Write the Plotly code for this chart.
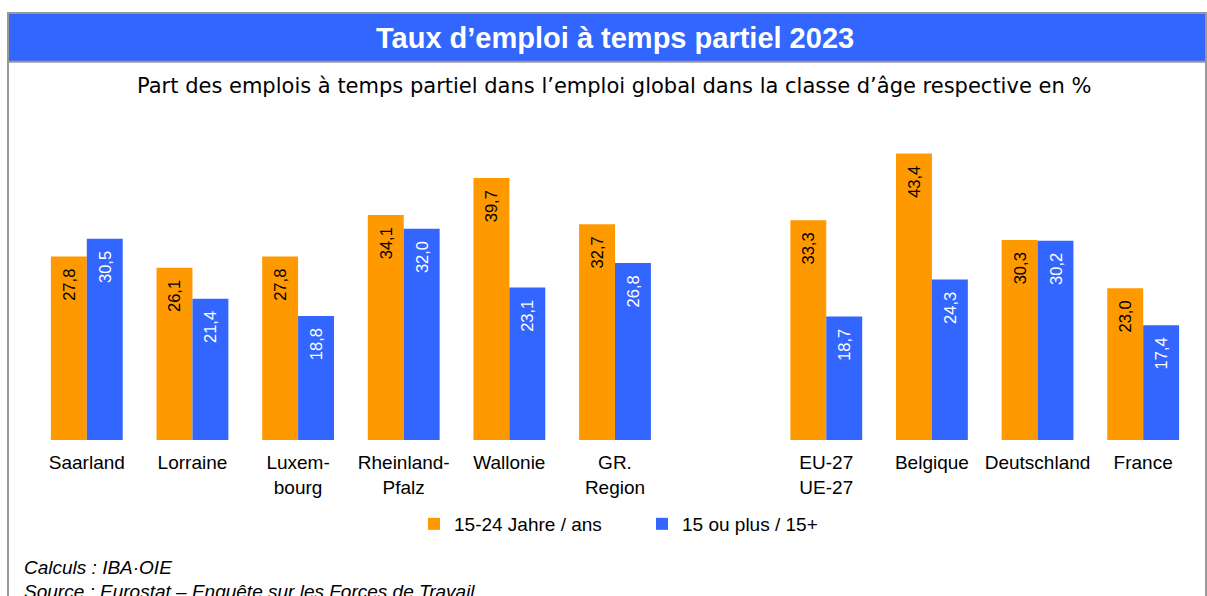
import plotly.graph_objects as go

# Part-time employment rate 2023, by region / country (in %)
categories = [
    "Saarland", "Lorraine", "Luxem-<br>bourg", "Rheinland-<br>Pfalz", "Wallonie",
    "GR.<br>Region", " ", "EU-27<br>UE-27", "Belgique", "Deutschland", "France",
]
age_15_24 = [27.8, 26.1, 27.8, 34.1, 39.7, 32.7, None, 33.3, 43.4, 30.3, 23.0]
age_15_plus = [30.5, 21.4, 18.8, 32.0, 23.1, 26.8, None, 18.7, 24.3, 30.2, 17.4]
series_names = ["15-24 Jahre / ans", "15 ou plus / 15+"]

ORANGE = "#FF9900"
BLUE = "#3366FF"
FONT = "Liberation Sans"

W, H = 1207, 596
ML, MR, MT, MB = 34, 11, 143, 156
PW, PH = W - ML - MR, H - MT - MB


def fx(px):
    return (px - ML) / PW


def fy(py):
    return (H - MB - py) / PH


def fmt(vals):
    return [None if v is None else f"{v:.1f}".replace(".", ",") + "\u00a0\u00a0" for v in vals]


fig = go.Figure()
fig.add_trace(go.Bar(
    x=categories, y=age_15_24, name=series_names[0],
    marker=dict(color=ORANGE, line=dict(width=0)),
    text=fmt(age_15_24), textposition="inside", insidetextanchor="end",
    textangle=-90, insidetextfont=dict(color="black", size=16.5, family=FONT),
))
fig.add_trace(go.Bar(
    x=categories, y=age_15_plus, name=series_names[1],
    marker=dict(color=BLUE, line=dict(width=0)),
    text=fmt(age_15_plus), textposition="inside", insidetextanchor="end",
    textangle=-90, insidetextfont=dict(color="white", size=16.5, family=FONT),
))

shapes = [
    # outer frame
    dict(type="rect", xref="paper", yref="paper",
         x0=fx(8), x1=fx(1206), y0=fy(640), y1=fy(13),
         line=dict(color="#999999", width=2), fillcolor="rgba(0,0,0,0)", layer="below"),
    # title band
    dict(type="rect", xref="paper", yref="paper",
         x0=fx(9), x1=fx(1205), y0=fy(61), y1=fy(14),
         line=dict(width=0), fillcolor=BLUE, layer="below"),
    dict(type="line", xref="paper", yref="paper",
         x0=fx(8), x1=fx(1206), y0=fy(61.8), y1=fy(61.8),
         line=dict(color="#999999", width=2)),
]

annotations = [
    dict(text="Taux d’emploi à temps partiel 2023", xref="paper", yref="paper",
         x=fx(615), y=fy(38), xanchor="center", yanchor="middle", showarrow=False,
         font=dict(family=FONT, size=29, color="white", weight="bold")),
    dict(text="Part des emplois à temps partiel dans l’emploi global dans la classe d’âge respective en %",
         xref="paper", yref="paper", x=fx(614), y=fy(86), xanchor="center", yanchor="middle",
         showarrow=False, font=dict(family="DejaVu Sans", size=21, color="black")),
    dict(text="<i>Calculs : IBA·OIE</i>", xref="paper", yref="paper",
         x=fx(22), y=fy(567), xanchor="left", yanchor="middle", showarrow=False,
         font=dict(family=FONT, size=19, color="black")),
    dict(text="<i>Source : Eurostat – Enquête sur les Forces de Travail</i>", xref="paper", yref="paper",
         x=fx(22), y=fy(591), xanchor="left", yanchor="middle", showarrow=False,
         font=dict(family=FONT, size=19, color="black")),
]

fig.update_layout(
    width=W, height=H,
    margin=dict(l=ML, r=MR, t=MT, b=MB, autoexpand=False),
    paper_bgcolor="white", plot_bgcolor="white",
    barmode="group", bargap=0.32, bargroupgap=0,
    font=dict(family=FONT, size=19, color="black"),
    showlegend=True,
    legend=dict(orientation="h", x=fx(642), y=fy(524), xanchor="center", yanchor="middle",
                font=dict(family=FONT, size=19), itemwidth=30, entrywidth=183,
                bgcolor="rgba(0,0,0,0)"),
    xaxis=dict(type="category", showgrid=False, showline=False, zeroline=False,
               ticks="", tickfont=dict(family=FONT, size=19), ticklabelstandoff=9),
    yaxis=dict(range=[0, 45], visible=False, showgrid=False, zeroline=False),
    shapes=shapes, annotations=annotations,
    uniformtext=dict(mode=False),
)

fig.write_html("out.html")
